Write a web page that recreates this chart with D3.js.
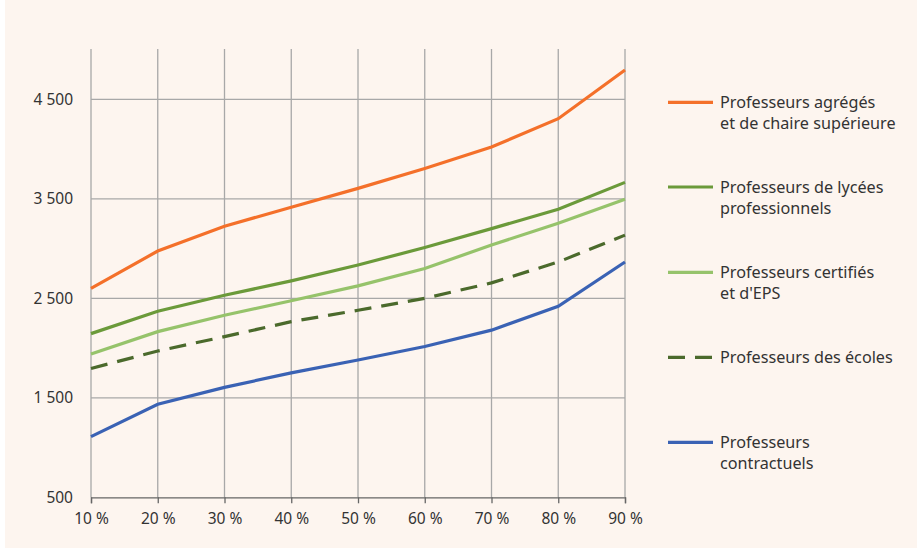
<!DOCTYPE html>
<html>
<head>
<meta charset="utf-8">
<script src="https://cdn.jsdelivr.net/npm/d3@7"></script>
<style>
  html, body { margin: 0; padding: 0; background: #ffffff; }
  svg { display: block; }
  text { font-family: "Noto Sans", "Open Sans", sans-serif; fill: #333333; }
</style>
</head>
<body>
<svg id="chart" width="917" height="560"></svg>
<script>
// Déciles de rémunération par corps (en euros)
const deciles = ["10 %", "20 %", "30 %", "40 %", "50 %", "60 %", "70 %", "80 %", "90 %"];
const yTicks = [500, 1500, 2500, 3500, 4500];

const agreges     = [2600, 2975, 3225, 3415, 3605, 3805, 4020, 4305, 4795];
const lyceesPro   = [2145, 2370, 2530, 2675, 2835, 3010, 3200, 3395, 3665];
const certifies   = [1940, 2165, 2330, 2475, 2625, 2800, 3035, 3255, 3495];
const ecoles      = [1795, 1970, 2115, 2265, 2380, 2500, 2655, 2865, 3135];
const contractuels= [1110, 1435, 1605, 1750, 1880, 2015, 2180, 2420, 2865];

const series = [
  { name: ["Professeurs agrégés", "et de chaire supérieure"], values: agreges, color: "#f4702a", dash: null },
  { name: ["Professeurs de lycées", "professionnels"], values: lyceesPro, color: "#6b9a3a", dash: null },
  { name: ["Professeurs certifiés", "et d'EPS"], values: certifies, color: "#96c36b", dash: null },
  { name: ["Professeurs des écoles"], values: ecoles, color: "#4b6a2c", dash: "17,10" },
  { name: ["Professeurs", "contractuels"], values: contractuels, color: "#3a62b4", dash: null }
];

const svg = d3.select("#chart");
svg.append("rect").attr("x", 5).attr("y", 0).attr("width", 912).attr("height", 548).attr("fill", "#fdf5ef");

const x = d3.scalePoint().domain(deciles).range([91, 625]);
const y = d3.scaleLinear().domain([500, 4500]).range([497.3, 99.3]);
const gridTop = 49;

// Grille verticale
svg.append("g").selectAll("line").data(deciles).join("line")
  .attr("x1", d => x(d)).attr("x2", d => x(d))
  .attr("y1", gridTop).attr("y2", y(500))
  .attr("stroke", "#a8a8a8").attr("stroke-width", 1.3);

// Grille horizontale
svg.append("g").selectAll("line").data(yTicks.filter(v => v > 500)).join("line")
  .attr("x1", x(deciles[0])).attr("x2", x(deciles[deciles.length - 1]))
  .attr("y1", d => y(d)).attr("y2", d => y(d))
  .attr("stroke", "#a8a8a8").attr("stroke-width", 1.3);

// Axe des abscisses
const xAxis = svg.append("g")
  .attr("transform", `translate(0,${y(500)})`)
  .call(d3.axisBottom(x).tickSize(6).tickPadding(10));
xAxis.select(".domain").attr("stroke", "#666666").attr("stroke-width", 1.3);
xAxis.selectAll(".tick line").attr("stroke", "#666666").attr("stroke-width", 1.3);
xAxis.selectAll("text").attr("font-size", 15.5).attr("fill", "#333333")
  .style("font-family", "'Noto Sans', 'Open Sans', sans-serif");

// Axe des ordonnées
const yAxis = svg.append("g")
  .attr("transform", `translate(${x(deciles[0])},0)`)
  .call(d3.axisLeft(y).tickValues(yTicks).tickSize(0).tickPadding(18)
    .tickFormat(v => d3.format(",")(v).replace(",", " ")));
yAxis.select(".domain").remove();
yAxis.selectAll("text").attr("font-size", 15.5).attr("fill", "#333333")
  .style("font-family", "'Noto Sans', 'Open Sans', sans-serif");

// Courbes
const line = d3.line().x((d, i) => x(deciles[i])).y(d => y(d));
svg.append("g").selectAll("path").data(series).join("path")
  .attr("d", d => line(d.values))
  .attr("fill", "none")
  .attr("stroke", d => d.color)
  .attr("stroke-width", 3.2)
  .attr("stroke-dasharray", d => d.dash);

// Légende
const legendY = [102.3, 187, 272.3, 357.3, 442.3];
const leg = svg.append("g").selectAll("g").data(series).join("g")
  .attr("transform", (d, i) => `translate(668,${legendY[i]})`);
leg.append("line")
  .attr("x1", 0).attr("x2", 45).attr("y1", 0).attr("y2", 0)
  .attr("stroke", d => d.color).attr("stroke-width", 3.2)
  .attr("stroke-dasharray", d => d.dash);
leg.append("text")
  .attr("x", 52).attr("y", 5.5)
  .attr("font-size", 16.2)
  .selectAll("tspan").data(d => d.name).join("tspan")
  .attr("x", 52).attr("dy", (d, i) => i === 0 ? 0 : 21.5)
  .text(d => d);
</script>
</body>
</html>
